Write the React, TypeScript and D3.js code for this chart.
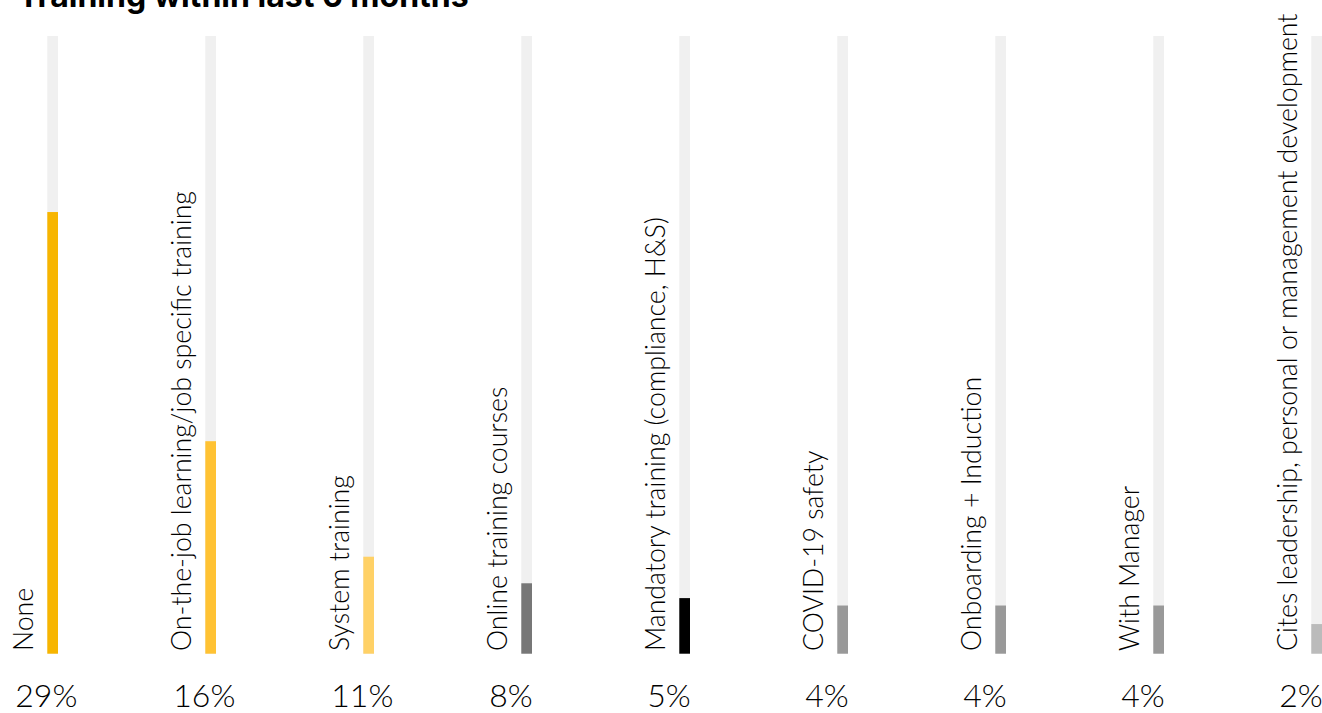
import React from "react";
import * as d3 from "d3";

const title = "Training within last 6 months";
const categories = [
  "None",
  "On-the-job learning/job specific training",
  "System training",
  "Online training courses",
  "Mandatory training (compliance, H&S)",
  "COVID-19 safety",
  "Onboarding + Induction",
  "With Manager",
  "Cites leadership, personal or management development",
];
// bar length as share of the full track
const barValues = [71.5, 34.4, 15.7, 11.4, 9.0, 7.8, 7.8, 7.8, 4.8];
const percentLabels = ["29%", "16%", "11%", "8%", "5%", "4%", "4%", "4%", "2%"];
const barColors = [
  "#F7B500",
  "#FFC233",
  "#FFD166",
  "#777777",
  "#000000",
  "#999999",
  "#999999",
  "#999999",
  "#BBBBBB",
];

const W = 1322;
const H = 713;
const barW = 10.7;
const trackTop = 36;
const trackBottom = 653.7;

export default function App() {
  const x = d3.scalePoint<string>().domain(categories).range([47.3, 1311.3]);
  const y = d3.scaleLinear().domain([0, 100]).range([trackBottom, trackTop]);
  const font = "Lato, 'Open Sans', sans-serif";
  return (
    <svg
      width={W}
      height={H}
      style={{ position: "absolute", left: 0, top: 0, background: "#fff" }}
    >
      <text
        x={18}
        y={7}
        fontFamily="Inter, Roboto, sans-serif"
        fontWeight={700}
        fontSize={32}
        fill="#000"
      >
        {title}
      </text>
      {categories.map((c, i) => {
        const bx = x(c) as number;
        return (
          <g key={c}>
            <rect x={bx} y={y(100)} width={barW} height={y(0) - y(100)} fill="#F0F0F0" />
            <rect
              x={bx}
              y={y(barValues[i])}
              width={barW}
              height={y(0) - y(barValues[i])}
              fill={barColors[i]}
            />
            <text
              transform={`translate(${bx - 14.5},${651}) rotate(-90)`}
              fontFamily={font}
              fontWeight={300}
              fontSize={26.7}
              fill="#000"
            >
              {c}
            </text>
            <text
              x={bx - 32}
              y={707}
              fontFamily={font}
              fontWeight={300}
              fontSize={32}
              fill="#000"
            >
              {percentLabels[i]}
            </text>
          </g>
        );
      })}
    </svg>
  );
}
